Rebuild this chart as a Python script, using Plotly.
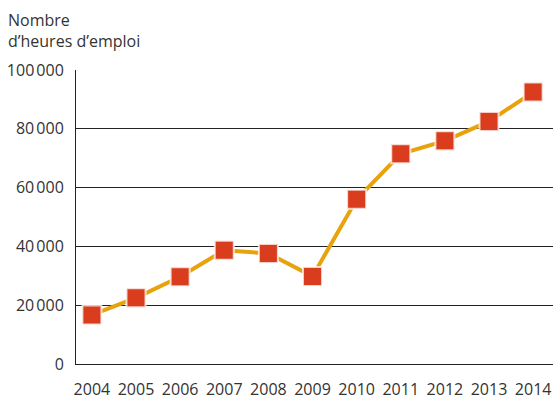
import plotly.graph_objects as go

years = [2004, 2005, 2006, 2007, 2008, 2009, 2010, 2011, 2012, 2013, 2014]
hours = [16700, 22500, 29700, 38700, 37600, 29800, 56000, 71500, 75900, 82500, 92500]
ytick_vals = [0, 20000, 40000, 60000, 80000, 100000]
ytick_text = ["0", "20\u202f000", "40\u202f000", "60\u202f000", "80\u202f000", "100\u202f000"]
y_title = "Nombre<br>d\u2019heures d\u2019emploi"

FONT = "Open Sans"
TXT = "#333333"
FS = 16

fig = go.Figure()
fig.add_trace(go.Scatter(
    x=years, y=hours, mode="lines+markers",
    line=dict(color="#E8A20C", width=4),
    marker=dict(symbol="square", size=19, color="#DA3D1E",
                line=dict(color="rgba(255,255,255,0.75)", width=2)),
    cliponaxis=False, showlegend=False,
))

PW, PH = 477, 294
fig.update_layout(
    width=553, height=403,
    margin=dict(l=76, r=0, t=70, b=39, pad=0),
    paper_bgcolor="white", plot_bgcolor="white",
    font=dict(family=FONT, size=FS, color=TXT),
    xaxis=dict(
        range=[2003.64, 2014.45], tickvals=years, ticktext=[str(y) for y in years],
        showgrid=False, showline=True, linecolor="#222222", linewidth=1,
        ticks="", ticklabelstandoff=11, zeroline=False, automargin=False,
        tickfont=dict(family=FONT, size=FS, color=TXT),
    ),
    yaxis=dict(
        range=[0, 100000], tickvals=ytick_vals, ticktext=ytick_text,
        showgrid=True, gridcolor="#222222", gridwidth=1,
        showline=True, linecolor="#222222", linewidth=1,
        ticks="", ticklabelstandoff=8, zeroline=False, automargin=False,
        tickfont=dict(family=FONT, size=FS, color=TXT),
    ),
    annotations=[dict(
        text=y_title, xref="paper", yref="paper", x=-76/PW, y=1 + 70/PH,
        xanchor="left", yanchor="top", showarrow=False, align="left",
        xshift=6, yshift=-7,
        font=dict(family=FONT, size=FS, color=TXT),
    )],
)

fig.write_html(
    "out.html",
    config={"displayModeBar": False},
    post_script="document.body.style.margin='0px';document.body.style.overflow='hidden';",
)
